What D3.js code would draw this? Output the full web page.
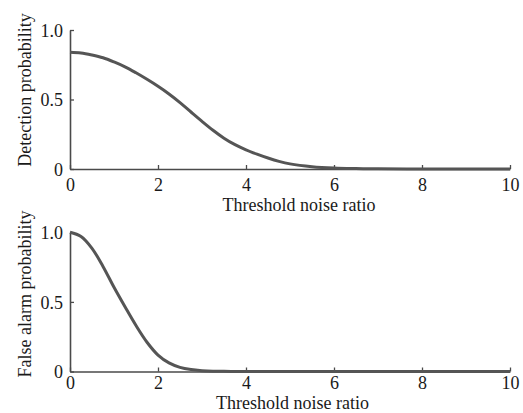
<!DOCTYPE html>
<html>
<head>
<meta charset="utf-8">
<script src="https://cdn.jsdelivr.net/npm/d3@7"></script>
<style>
  html, body { margin: 0; padding: 0; background: #fff; }
  svg { display: block; }
  text { font-family: "Liberation Serif", "Times New Roman", serif; fill: #1a1a1a; }
</style>
</head>
<body>
<svg id="chart" width="523" height="413"></svg>
<script>
// ---- data ----
const thresholds = [0, 0.25, 0.5, 0.75, 1, 1.25, 1.5, 1.75, 2, 2.25, 2.5, 2.75, 3, 3.25, 3.5, 3.75, 4, 4.25, 4.5, 4.75, 5, 5.5, 6, 6.5, 7, 8, 9, 10];
const detectionProb = [0.84, 0.835, 0.82, 0.80, 0.77, 0.735, 0.692, 0.645, 0.595, 0.54, 0.478, 0.41, 0.343, 0.279, 0.222, 0.175, 0.138, 0.107, 0.079, 0.055, 0.037, 0.017, 0.007, 0.003, 0.001, 0, 0, 0];
const falseAlarmProb = [1.0, 0.97, 0.885, 0.755, 0.605, 0.465, 0.33, 0.21, 0.118, 0.062, 0.03, 0.014, 0.006, 0.002, 0.001, 0, 0, 0, 0, 0, 0, 0, 0, 0, 0, 0, 0, 0];
const xTicks = [0, 2, 4, 6, 8, 10];
const yTicks = [0, 0.5, 1.0];
const yTickLabels = ["0", "0.5", "1.0"];
const xLabel = "Threshold noise ratio";
const yLabels = ["Detection probability", "False alarm probability"];

const svg = d3.select("#chart");
const x = d3.scaleLinear().domain([0, 10]).range([70, 510]);

const panels = [
  { values: detectionProb, yLabel: yLabels[0], y0: 169, y1: 30, tickBase: 21.5, labelX: 299, labelY: 211, yLabelCenter: 90 },
  { values: falseAlarmProb, yLabel: yLabels[1], y0: 371.5, y1: 232.3, tickBase: 17.5, labelX: 292.5, labelY: 409.3, yLabelCenter: 294 }
];

const axisColor = "#4a4a4a";
const lineColor = "#555555";

panels.forEach(p => {
  const y = d3.scaleLinear().domain([0, 1]).range([p.y0, p.y1]);
  const g = svg.append("g");

  // x axis
  const xa = g.append("g")
    .attr("transform", `translate(0,${p.y0})`)
    .call(d3.axisBottom(x).tickValues(xTicks).tickFormat(d3.format("d")).tickSizeInner(-4).tickSizeOuter(0));
  xa.selectAll("text").attr("y", p.tickBase).attr("dy", 0).style("font-size", "18px");

  // y axis
  const ya = g.append("g")
    .attr("transform", `translate(${x(0)},0)`)
    .call(d3.axisLeft(y).tickValues(yTicks).tickFormat((d, i) => yTickLabels[i]).tickSizeInner(-4).tickSizeOuter(0).tickPadding(7));
  ya.selectAll("text").attr("dy", "0.34em").style("font-size", "18px");

  [xa, ya].forEach(a => {
    a.select(".domain").attr("stroke", axisColor).attr("stroke-width", 1.6);
    a.selectAll(".tick line").attr("stroke", axisColor).attr("stroke-width", 1.3);
    a.selectAll("text").attr("fill", "#1a1a1a").style("font-family", "'Liberation Serif', serif");
  });

  // curve
  const line = d3.line()
    .x((d, i) => x(thresholds[i]))
    .y(d => y(d))
    .curve(d3.curveCatmullRom.alpha(0.5));
  g.append("path")
    .datum(p.values)
    .attr("d", line)
    .attr("fill", "none")
    .attr("stroke", lineColor)
    .attr("stroke-width", 3)
    .attr("stroke-linejoin", "round");

  // labels
  g.append("text")
    .attr("x", p.labelX).attr("y", p.labelY)
    .attr("text-anchor", "middle")
    .style("font-size", "18px")
    .text(xLabel);
  g.append("text")
    .attr("transform", `translate(31,${p.yLabelCenter}) rotate(-90)`)
    .attr("text-anchor", "middle")
    .style("font-size", "18px")
    .text(p.yLabel);
});
</script>
</body>
</html>
